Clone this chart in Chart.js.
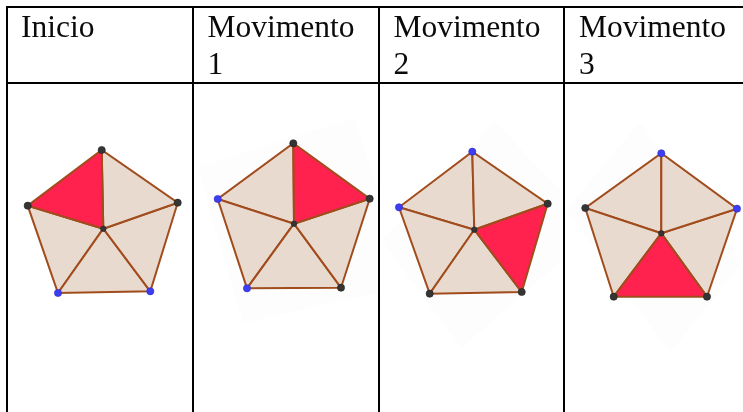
<!DOCTYPE html>
<html>
<head>
<meta charset="utf-8">
<script src="https://cdn.jsdelivr.net/npm/chart.js@4.4.0/dist/chart.umd.min.js"></script>
<style>
    html, body { margin: 0; padding: 0; background: #fff; }
    #page { position: relative; width: 743px; height: 412px; overflow: hidden; }
    .rule { position: absolute; background: #000; }
    .head {
        position: absolute; top: 9px;
        font-family: "Liberation Serif", "Times New Roman", serif;
        font-size: 31.5px; line-height: 36.5px; color: #0a0a0a;
    }
    #shapes { position: absolute; left: 0; top: 0; }
</style>
</head>
<body>
<div id="page">
    <canvas id="shapes" width="743" height="412"></canvas>
    <div class="rule" style="left:6px; top:6px; width:737px; height:2px;"></div>
    <div class="rule" style="left:6px; top:82px; width:737px; height:2px;"></div>
    <div class="rule" style="left:6px; top:6px; width:2px; height:406px;"></div>
    <div class="rule" style="left:192px; top:6px; width:2px; height:406px;"></div>
    <div class="rule" style="left:378px; top:6px; width:2px; height:406px;"></div>
    <div class="rule" style="left:563px; top:6px; width:2px; height:406px;"></div>
    <div class="head" style="left:21px;">Inicio</div>
    <div class="head" style="left:207.5px;">Movimento<br>1</div>
    <div class="head" style="left:393.5px;">Movimento<br>2</div>
    <div class="head" style="left:579px;">Movimento<br>3</div>
</div>
<script>
// --- Pentagon vertices per column (page units): top, right, bottom-right, bottom-left, left, centre ---
const inicio     = [[101.7, 150], [177.7, 202.7], [150.3, 291.3], [58, 293], [27.7, 205.7], [103.3, 228.7]];
const movimento1 = [[293.3, 143.3], [369.7, 198.7], [341, 287.7], [247, 288.3], [217.7, 199], [294, 223.7]];
const movimento2 = [[472.3, 151.7], [547.7, 203.7], [521.7, 292], [429.7, 293.7], [399, 207.3], [474.3, 229.7]];
const movimento3 = [[661.3, 153.3], [737, 208.7], [707, 296.7], [613.7, 296.7], [585.3, 208], [661.3, 233.3]];

// faint rotated backdrops of the pasted screenshots (none for the first column), cut at the cell edge
const backdrop1 = [[197, 167], [355, 118], [377, 188], [377, 293], [243, 323]];
const backdrop2 = [[381, 240], [495, 121.7], [562, 192], [562, 260], [461.7, 348]];
const backdrop3 = [[566, 210], [640, 121.7], [743, 262], [670, 353]];

// which of the five triangles (0 = top-right wedge, going clockwise) is red
const redTriangle = [4, 0, 1, 2];
// which outer vertices are blue
const blueVertices = [[2, 3], [3, 4], [0, 4], [0, 1]];

const pentagons = [inicio, movimento1, movimento2, movimento3];
const backdrops = [backdrop1, backdrop2, backdrop3];

const BEIGE = 'rgb(233, 218, 207)';
const RED = '#ff224e';
const EDGE = '#a04c1c';

const pt = (v) => ({ x: v[0], y: v[1] });

const datasets = [];

backdrops.forEach(b => {
    datasets.push({
        data: b.concat([b[0]]).map(pt),
        showLine: true,
        fill: 'shape',
        backgroundColor: '#fdfdfd',
        borderWidth: 0,
        borderColor: 'rgba(0,0,0,0)',
        pointRadius: 0,
        clip: false,
        order: 9
    });
});

pentagons.forEach((p, k) => {
    const c = p[5];
    // triangles
    for (let i = 0; i < 5; i++) {
        const a = p[i];
        const b = p[(i + 1) % 5];
        const isRed = redTriangle[k] === i;
        datasets.push({
            data: [pt(c), pt(a), pt(b), pt(c)],
            showLine: true,
            fill: 'shape',
            backgroundColor: isRed ? RED : BEIGE,
            borderColor: EDGE,
            borderWidth: 2,
            pointRadius: 0,
            tension: 0,
            clip: false,
            order: isRed ? 2 : 3
        });
    }
    // vertices
    const blue = blueVertices[k];
    datasets.push({
        data: p.map(pt),
        showLine: false,
        pointRadius: p.map((v, i) => (i === 5 ? 2.8 : 3.6)),
        pointBackgroundColor: p.map((v, i) => (blue.includes(i) ? '#3d3df2' : '#353535')),
        pointBorderColor: p.map((v, i) => (blue.includes(i) ? '#2b2bc8' : '#222222')),
        pointBorderWidth: 0.6,
        clip: false,
        order: 0
    });
});

new Chart(document.getElementById('shapes'), {
    type: 'scatter',
    data: { datasets: datasets },
    options: {
        responsive: false,
        animation: false,
        layout: { padding: 0, autoPadding: false },
        plugins: {
            legend: { display: false },
            tooltip: { enabled: false }
        },
        scales: {
            x: { type: 'linear', min: 0, max: 743, display: false },
            y: { type: 'linear', min: 0, max: 412, reverse: true, display: false }
        }
    }
});
</script>
</body>
</html>
